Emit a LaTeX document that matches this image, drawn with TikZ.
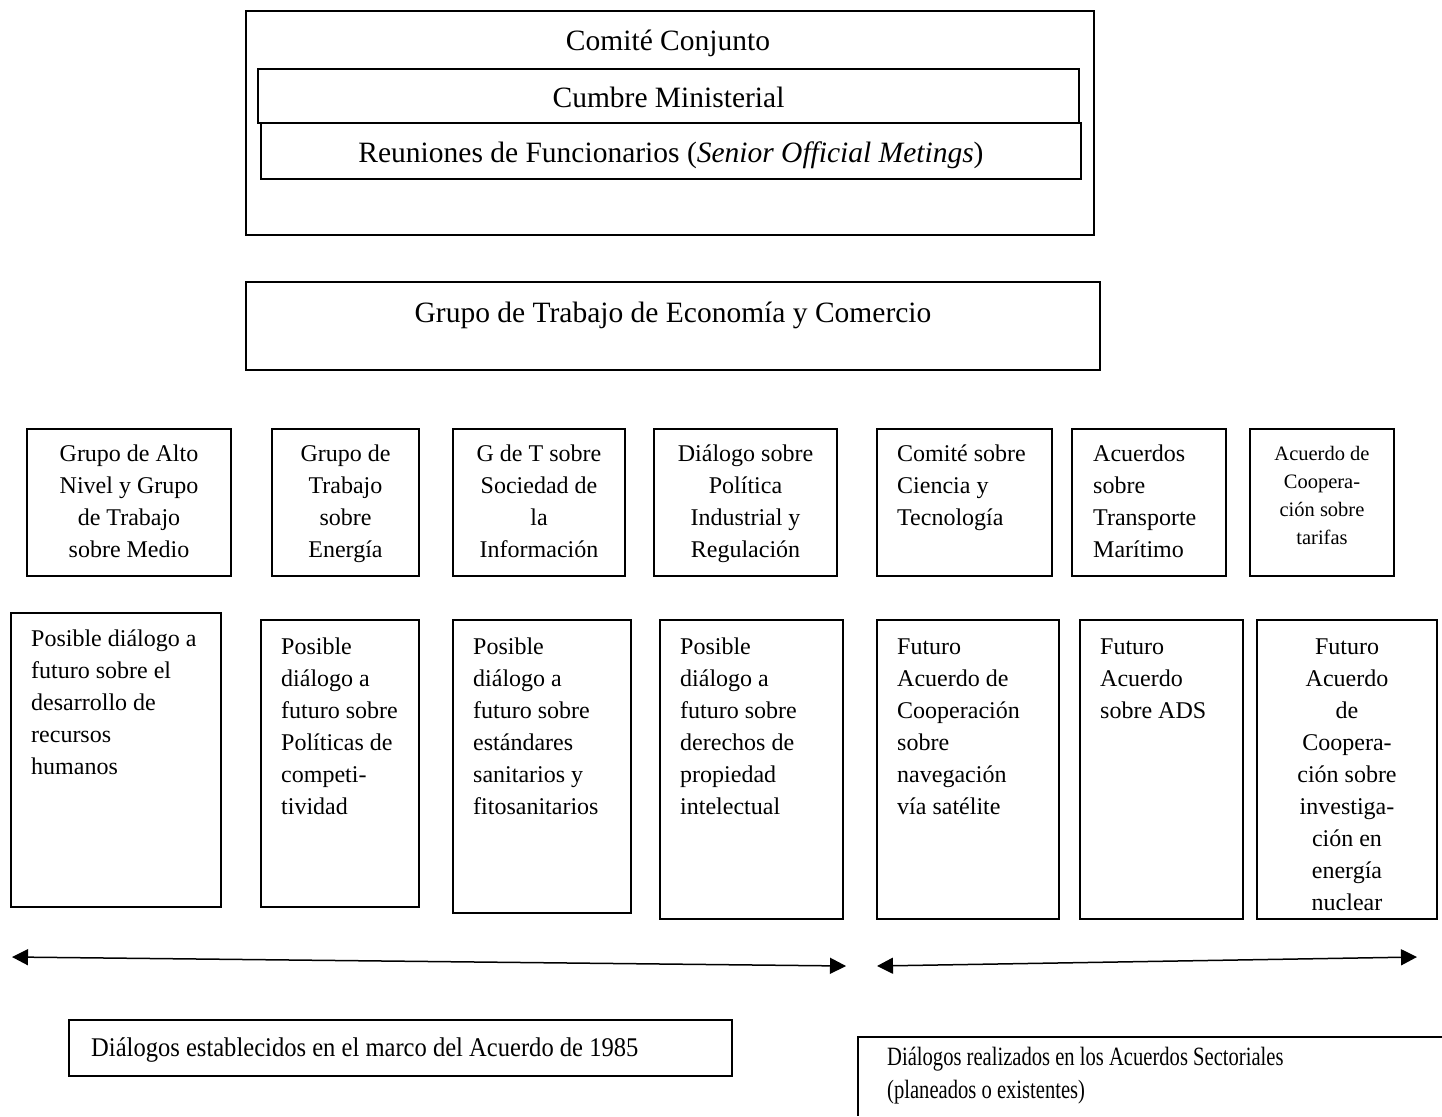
\documentclass[tikz,border=0pt]{standalone}
\usepackage{fontspec}
\setmainfont{Liberation Serif}
\newfontfamily\condA[FakeStretch=0.91]{Liberation Serif}
\newfontfamily\condB[FakeStretch=0.78]{Liberation Serif}
\usetikzlibrary{arrows.meta,fit}
\begin{document}
\begin{tikzpicture}[x=1pt,y=-1pt,
  bx/.style={draw, line width=1.5pt, inner sep=0pt},
  ltxt/.style={inner sep=0pt, anchor=base west},
  ctxt/.style={inner sep=0pt, anchor=base},
  big/.style={font=\fontsize{29.5}{34}\selectfont},
  mid/.style={font=\fontsize{24}{32}\selectfont},
  small/.style={font=\fontsize{20.5}{28}\selectfont},
  arr/.style={line width=1.5pt, {Triangle[length=16pt,width=16pt]}-{Triangle[length=16pt,width=16pt]}}
]
\useasboundingbox (0,0) rectangle (1442,1116);

% top block
\node[bx, fit={(246,11) (1094,235)}] (cc) {};
\node[ctxt, big] (cct) at (668,51) {Comité Conjunto};
\node[bx, fit={(258,69) (1079,123)}] (cm) {};
\node[ctxt, big] (cmt) at (668.5,107) {Cumbre Ministerial};
\node[bx, fit={(261,123) (1081,179)}] (rf) {};
\node[ctxt, big] (rft) at (671,162) {Reuniones de Funcionarios (\textit{Senior Official Metings})};

\node[bx, fit={(246,282) (1100,370)}] (gt) {};
\node[ctxt, big] (gtt) at (673,322) {Grupo de Trabajo de Economía y Comercio};

% row 1
\node[bx, fit={(27,429) (231,576)}] (a1) {};
\node[ctxt, mid] (a1t) at (129,461) {\parbox[t]{200pt}{\centering Grupo de Alto\\Nivel y Grupo\\de Trabajo\\sobre Medio}};
\node[bx, fit={(272,429) (419,576)}] (a2) {};
\node[ctxt, mid] (a2t) at (345.5,461) {\parbox[t]{145pt}{\centering Grupo de\\Trabajo\\sobre\\Energía}};
\node[bx, fit={(453,429) (625,576)}] (a3) {};
\node[ctxt, mid] (a3t) at (539,461) {\parbox[t]{170pt}{\centering G de T sobre\\Sociedad de\\la\\Información}};
\node[bx, fit={(654,429) (837,576)}] (a4) {};
\node[ctxt, mid] (a4t) at (745.5,461) {\parbox[t]{180pt}{\centering Diálogo sobre\\Política\\Industrial y\\Regulación}};
\node[bx, fit={(877,429) (1052,576)}] (a5) {};
\node[ltxt, mid] (a5t) at (897,461) {\parbox[t]{150pt}{\raggedright Comité sobre\\Ciencia y\\Tecnología}};
\node[bx, fit={(1072,429) (1226,576)}] (a6) {};
\node[ltxt, mid] (a6t) at (1093,461) {\parbox[t]{130pt}{\raggedright Acuerdos\\sobre\\Transporte\\Marítimo}};
\node[bx, fit={(1250,429) (1394,576)}] (a7) {};
\node[ctxt, small] (a7t) at (1322,460) {\parbox[t]{140pt}{\centering Acuerdo de\\Coopera-\\ción sobre\\tarifas}};

% row 2
\node[bx, fit={(11,613) (221,907)}] (b1) {};
\node[ltxt, mid] (b1t) at (31,646) {\parbox[t]{190pt}{\raggedright Posible diálogo a\\futuro sobre el\\desarrollo de\\recursos\\humanos}};
\node[bx, fit={(261,620) (419,907)}] (b2) {};
\node[ltxt, mid] (b2t) at (281,654) {\parbox[t]{138pt}{\raggedright Posible\\diálogo a\\futuro sobre\\Políticas de\\competi-\\tividad}};
\node[bx, fit={(453,620) (631,913)}] (b3) {};
\node[ltxt, mid] (b3t) at (473,654) {\parbox[t]{158pt}{\raggedright Posible\\diálogo a\\futuro sobre\\estándares\\sanitarios y\\fitosanitarios}};
\node[bx, fit={(660,620) (843,919)}] (b4) {};
\node[ltxt, mid] (b4t) at (680,654) {\parbox[t]{160pt}{\raggedright Posible\\diálogo a\\futuro sobre\\derechos de\\propiedad\\intelectual}};
\node[bx, fit={(877,620) (1059,919)}] (b5) {};
\node[ltxt, mid] (b5t) at (897,654) {\parbox[t]{160pt}{\raggedright Futuro\\Acuerdo de\\Cooperación\\sobre\\navegación\\vía satélite}};
\node[bx, fit={(1080,620) (1243,919)}] (b6) {};
\node[ltxt, mid] (b6t) at (1100,654) {\parbox[t]{140pt}{\raggedright Futuro\\Acuerdo\\sobre ADS}};
\node[bx, fit={(1257,620) (1437,919)}] (b7) {};
\node[ctxt, mid] (b7t) at (1347,654) {\parbox[t]{178pt}{\centering Futuro\\Acuerdo\\de\\Coopera-\\ción sobre\\investiga-\\ción en\\energía\\nuclear}};

% arrows
\coordinate (l1) at (12,957);
\coordinate (l2) at (846,966);
\coordinate (r1) at (877,966);
\coordinate (r2) at (1417,957);
\draw[arr] (l1) -- (l2);
\draw[arr] (r1) -- (r2);

% bottom labels
\node[bx, fit={(69,1020) (732,1076)}] (d1) {};
\node[ltxt, font=\condA\fontsize{27}{32}\selectfont] (d1t) at (91,1056) {Diálogos establecidos en el marco del Acuerdo de 1985};
\draw[line width=1.5pt] (1442,1037) -- (858,1037) -- (858,1116);
\node[ltxt, font=\condB\fontsize{26.4}{33}\selectfont] (d2t) at (887,1065) {\parbox[t]{540pt}{\raggedright Diálogos realizados en los Acuerdos Sectoriales\\(planeados o existentes)}};
\end{tikzpicture}
\end{document}
